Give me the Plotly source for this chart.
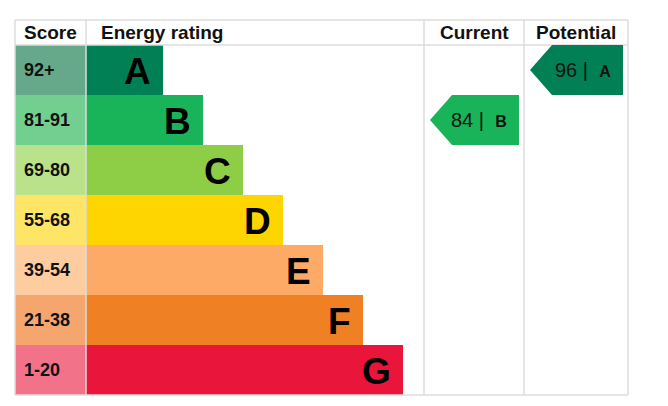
import plotly.graph_objects as go

# EPC chart data
bands = ["A", "B", "C", "D", "E", "F", "G"]
scores = ["92+", "81-91", "69-80", "55-68", "39-54", "21-38", "1-20"]
colors = ["#008054", "#19b459", "#8dce46", "#ffd500", "#fcaa65", "#ef8023", "#e9153b"]
light = ["#66a98a", "#72cf8f", "#b9e28a", "#ffe566", "#fdcc9f", "#f5a66e", "#f27289"]
current = 84
current_band = "B"
potential = 96
potential_band = "A"

# page geometry (pixels)
L, R, T, HDR, ROW = 15, 628, 20, 25, 50
C1, C2, C3 = 86, 424, 524

fig = go.Figure()
shapes = []
ann = []
font = dict(family="Liberation Sans, Arial", color="#111")

for i, b in enumerate(bands):
    y0 = T + HDR + i * ROW
    y1 = y0 + ROW
    shapes.append(dict(type="rect", x0=L, x1=C1, y0=y0, y1=y1, fillcolor=light[i], line_width=0, layer="below"))
    xe = 163 + 40 * i
    shapes.append(dict(type="rect", x0=C1, x1=xe, y0=y0, y1=y1, fillcolor=colors[i], line_width=0, layer="below"))
    ann.append(dict(x=22, y=(y0 + y1) / 2, text="<b>%s</b>" % scores[i], xanchor="left", showarrow=False,
                    font=dict(font, size=18)))
    ann.append(dict(x=xe - 10, y=(y0 + y1) / 2 + 1, text="<b>%s</b>" % b, xanchor="right", showarrow=False,
                    font=dict(font, size=37, color="#000")))

# grid lines
g = dict(type="line", line=dict(color="#dddddd", width=1.5))
for x in [L, C1, C2, C3, R]:
    shapes.append(dict(g, x0=x, x1=x, y0=T, y1=T + HDR + 7 * ROW))
for y in [T, T + HDR, T + HDR + 7 * ROW]:
    shapes.append(dict(g, x0=L, x1=R, y0=y, y1=y))

for txt, x0, x1 in [("Score", L, C1), ("Energy rating", C1, C2), ("Current", C2, C3), ("Potential", C3, R)]:
    if txt == "Energy rating":
        ann.append(dict(x=C1 + 13, y=T + HDR / 2, text="<b>%s</b>" % txt, xanchor="left", showarrow=False,
                        font=dict(font, size=19)))
    else:
        ann.append(dict(x=(x0 + x1) / 2, y=T + HDR / 2, text="<b>%s</b>" % txt, showarrow=False,
                        font=dict(font, size=19)))

def arrow(val, band, cx0, cx1):
    i = bands.index(band)
    y0 = T + HDR + i * ROW
    y1 = y0 + ROW
    xl, xr = cx0 + 6, cx1 - 5
    tip = xl + 22
    path = "M %d %d L %d %d L %d %d L %d %d L %d %d Z" % (xl, (y0 + y1) / 2, tip, y0, xr, y0, xr, y1, tip, y1)
    shapes.append(dict(type="path", path=path, fillcolor=colors[i], line_width=0))
    ann.append(dict(x=xr - 10, y=(y0 + y1) / 2, xanchor="right", showarrow=False,
                    text="%d |  <b><span style='font-size:16px'>%s</span></b>" % (val, band),
                    font=dict(font, size=20)))

arrow(current, current_band, C2, C3)
arrow(potential, potential_band, C3, R)

# page body adds an 8px offset, so shift the axis window to compensate
fig.update_layout(width=668, height=406, margin=dict(l=0, r=0, t=0, b=0),
                  plot_bgcolor="white", paper_bgcolor="white",
                  xaxis=dict(range=[8, 676], visible=False, fixedrange=True),
                  yaxis=dict(range=[414, 8], visible=False, fixedrange=True),
                  shapes=shapes, annotations=ann, showlegend=False)
fig.write_html("out.html")
